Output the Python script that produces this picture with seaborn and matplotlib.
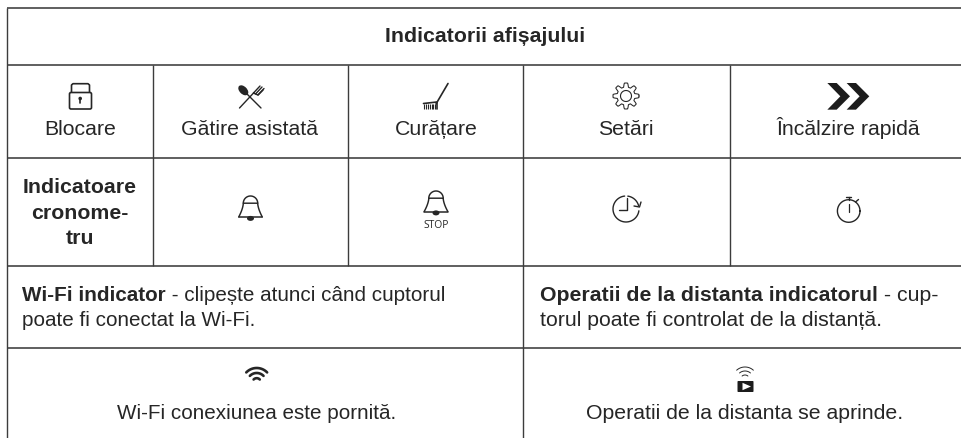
import numpy as np
import matplotlib
matplotlib.use("Agg")
import matplotlib.pyplot as plt
from matplotlib.patches import Polygon, Ellipse, FancyBboxPatch
import seaborn as sns

sns.set_theme(style="white")
plt.rcParams['font.family'] = ['Liberation Sans', 'DejaVu Sans']

W, H = 962, 439
INK = "#262626"
RULE = "#3c3c3c"
FS = 15.3
FS_WIFI = 14.85

title = "Indicatorii afișajului"
mode_labels = ["Blocare", "Gătire asistată", "Curățare", "Setări", "Încălzire rapidă"]
mode_x = [80, 249.5, 436, 626, 848]
timer_label = ["Indicatoare", "cronome-", "tru"]
timer_y = [193, 219, 244]
wifi_bold = "Wi-Fi indicator"
wifi_rest = [" - clipește atunci când cuptorul", "poate fi conectat la Wi-Fi."]
remote_bold = "Operatii de la distanta indicatorul"
remote_rest = [" - cup-", "torul poate fi controlat de la distanță."]
wifi_on = "Wi-Fi conexiunea este pornită."
remote_on = "Operatii de la distanta se aprinde."

hlines = [(7, 970, 9), (7, 970, 66), (7, 970, 158.5), (7, 970, 266.5), (7, 970, 349)]
vlines = [(7, 9, 445), (153.5, 66, 266.5), (348, 66, 266.5), (523.5, 66, 445), (730, 66, 266.5)]

fig, ax = plt.subplots(figsize=(9.62, 4.39), dpi=100)
fig.subplots_adjust(0, 0, 1, 1)


def stroke(xs, ys, lw=1.0, color=INK, cap="round"):
    sns.lineplot(x=list(xs), y=list(ys), estimator=None, sort=False, color=color,
                 linewidth=lw, solid_capstyle=cap, ax=ax)


def arc(cx, cy, r, a0, a1, lw=1.0):
    # angles in degrees, 90 = up on screen
    t = np.radians(np.linspace(a0, a1, 40))
    stroke(cx + r * np.cos(t), cy - r * np.sin(t), lw=lw)


def bell(cx, top, bottom):
    r = 7.2
    t = np.linspace(0, 1, 30)
    half = r + 4.6 * t ** 1.6
    ys = top + r + (bottom - top - r) * t
    stroke(np.r_[cx - half[::-1], cx + half], np.r_[ys[::-1], ys], lw=1.05)
    arc(cx, top + r, r, 0, 180, lw=1.05)
    stroke([cx - 11.8, cx + 11.8], [bottom, bottom], lw=1.1)
    ax.add_patch(Ellipse((cx, bottom + 1.4), 7, 5, color=INK, lw=0))


for x0, x1, y in hlines:
    stroke([x0, x1], [y, y], lw=1.15, color=RULE, cap="butt")
for x, y0, y1 in vlines:
    stroke([x, x], [y0, y1], lw=1.0, color=RULE, cap="butt")

# lock
ax.add_patch(FancyBboxPatch((69.5, 93.5), 22, 16.5, boxstyle="round,pad=0,rounding_size=1.5",
                            fill=False, ec=INK, lw=1.2))
stroke([71.5, 71.5, 73, 88, 89.5, 89.5], [93, 86, 84.7, 84.7, 86, 93], lw=1.2)
ax.add_patch(Ellipse((80.2, 99.5), 3.6, 3.6, color=INK, lw=0))
stroke([80.2, 80.2], [99.5, 104], lw=1.2)

# spoon and fork
stroke([239.5, 254], [109, 93.5], lw=1.0)
stroke([261, 246], [109, 94], lw=1.0)
ax.add_patch(Ellipse((243.3, 91.3), 12, 7.5, angle=45, color=INK, lw=0))
stroke([253.5, 258, 263], [94, 96, 91], lw=1.1)
stroke([253.5, 260], [94, 87], lw=1.0)
stroke([255.5, 262], [95, 88], lw=1.0)
stroke([258, 264], [96, 89.5], lw=1.0)

# brush
stroke([436, 448], [105, 84.5], lw=1.2)
stroke([423.5, 437, 437], [104.5, 103, 110], lw=1.2)
for bx in np.arange(424, 437, 1.9):
    stroke([bx, bx], [104.5, 110], lw=0.8, cap="butt")

# gear
n_teeth = 8
gt = np.radians(np.linspace(0, 360, 400))
gr = 11.0 + 2.0 * np.clip(1.8 * np.cos(n_teeth * gt), -1, 1)
stroke(626 + gr * np.cos(gt), 97 + gr * np.sin(gt), lw=0.75)
arc(626, 97, 5.5, 0, 360, lw=0.8)

# double chevron
for dx in [0, 19.3]:
    pts = np.array([[562, 72], [590, 72], [630, 112], [590, 152], [562, 152], [601, 112]]) / 3
    ax.add_patch(Polygon(pts + [640 + dx, 60], closed=True, color="#1c1c1c", lw=0))

# timer row
bell(250.5, 197, 218)
bell(436, 192, 212.5)
ax.text(436, 225.5, "STOP", ha="center", va="center", fontsize=7.4, color=INK,
        family=["Open Sans", "DejaVu Sans"])

arc(626, 210, 13, 96, 352)
arc(626, 210, 13, 82, 15)
stroke([634, 639.5, 641], [207, 208, 203], lw=1.0)
stroke([627.5, 627.5, 619], [199, 210.5, 210.5], lw=1.0)

arc(848.7, 212, 11.3, 0, 360)
stroke([848.7, 848.7], [197.5, 200.5], lw=1.0)
stroke([846, 851.4], [197.5, 197.5], lw=1.0)
stroke([848.7, 848.7], [205, 213], lw=0.9)
stroke([855.5, 858.5], [203, 200.5], lw=1.0)

# wifi and remote
for r, span in [(14.5, 46), (9.5, 46), (4.3, 46)]:
    arc(256.7, 383.5, r, 90 - span, 90 + span, lw=1.9)
for r, span in [(12.5, 42), (8.5, 40), (4.5, 40)]:
    arc(745, 380.5, r, 90 - span, 90 + span, lw=0.7)
ax.add_patch(FancyBboxPatch((737.5, 382), 16, 11, boxstyle="round,pad=0,rounding_size=0.8",
                            color="#1c1c1c", lw=0))
ax.add_patch(Polygon([[742.5, 383.8], [742.5, 391.2], [751, 387.5]], closed=True, color="white", lw=0))

# text
ax.text(485, 37, title, ha="center", va="center", fontsize=FS, fontweight="bold", color=INK)
for label, x in zip(mode_labels, mode_x):
    ax.text(x, 135, label, ha="center", va="baseline", fontsize=FS, color=INK)
for label, y in zip(timer_label, timer_y):
    ax.text(80, y, label, ha="center", va="baseline", fontsize=FS, fontweight="bold", color=INK)

head = ax.text(22.5, 301, wifi_bold, va="baseline", fontsize=FS_WIFI, fontweight="bold", color=INK)
ax.annotate(wifi_rest[0], xy=(1, 0), xycoords=head, va="bottom", fontsize=FS_WIFI, color=INK)
ax.text(22.5, 326, wifi_rest[1], va="baseline", fontsize=FS_WIFI, color=INK)
head = ax.text(540, 301, remote_bold, va="baseline", fontsize=FS, fontweight="bold", color=INK)
ax.annotate(remote_rest[0], xy=(1, 0), xycoords=head, va="bottom", fontsize=FS, color=INK)
ax.text(540, 326, remote_rest[1], va="baseline", fontsize=FS, color=INK)
ax.text(257, 419, wifi_on, ha="center", va="baseline", fontsize=FS_WIFI, color=INK)
ax.text(745, 419, remote_on, ha="center", va="baseline", fontsize=FS, color=INK)

ax.set_xlim(0, W)
ax.set_ylim(H, 0)
ax.set_xlabel("")
ax.set_ylabel("")
ax.axis("off")
fig.savefig("out.png", dpi=100)
